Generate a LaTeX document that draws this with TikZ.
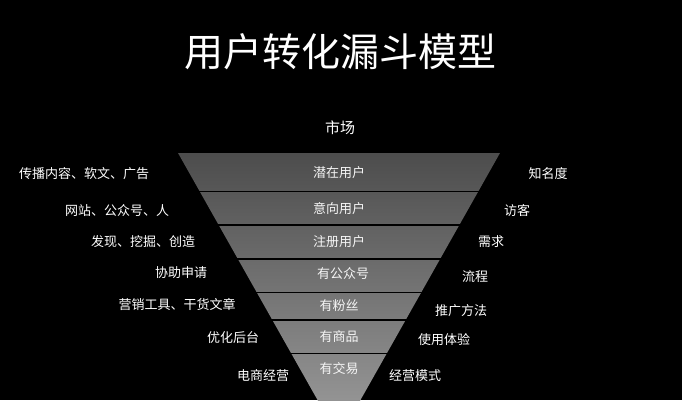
\documentclass[tikz,border=0pt]{standalone}
\usepackage{fontspec}
\setmainfont{Noto Sans CJK SC}
\begin{document}
\begin{tikzpicture}[x=1pt,y=-1pt,
  lbl/.style={text=white,font=\fontsize{13}{15}\selectfont,inner sep=0pt},
  band/.style={text=white!92!gray,font=\fontsize{13}{15}\selectfont,inner sep=0pt}]
\fill[black] (0,0) rectangle (682,400);
\useasboundingbox (0,0) rectangle (682,400);
\begin{scope}
\clip (0,0) rectangle (682,400);
\shade[top color=black!70!white,bottom color=black!38!white] (178,153) -- (500,153) -- (339,438) -- cycle;
\foreach \y in {191.7,225,259,292.7,320,353.3}
  \draw[black,line width=1.4pt] (150,\y) -- (530,\y);
\end{scope}
\node[text=white,font=\fontsize{39}{42}\selectfont] (title) at (340,52) {用户转化漏斗模型};
\node[lbl,font=\fontsize{15}{17}\selectfont] (m) at (340,128) {市场};
\node[band] (c1) at (339,173) {潜在用户};
\node[band] (c2) at (339,209) {意向用户};
\node[band] (c3) at (339,242) {注册用户};
\node[band] (c4) at (343,274) {有公众号};
\node[band] (c5) at (339,306) {有粉丝};
\node[band] (c6) at (339,337) {有商品};
\node[band] (c7) at (339,369) {有交易};
\node[lbl] (l1) at (84,174) {传播内容、软文、广告};
\node[lbl] (l2) at (117,211) {网站、公众号、人};
\node[lbl] (l3) at (143,242) {发现、挖掘、创造};
\node[lbl] (l4) at (181,273) {协助申请};
\node[lbl] (l5) at (177,304) {营销工具、干货文章};
\node[lbl] (l6) at (233,338) {优化后台};
\node[lbl] (l7) at (263,376) {电商经营};
\node[lbl] (r1) at (548,174) {知名度};
\node[lbl] (r2) at (517,211) {访客};
\node[lbl] (r3) at (491,242) {需求};
\node[lbl] (r4) at (475,277) {流程};
\node[lbl] (r5) at (461,311) {推广方法};
\node[lbl] (r6) at (444,340) {使用体验};
\node[lbl] (r7) at (415,376) {经营模式};
\end{tikzpicture}
\end{document}
